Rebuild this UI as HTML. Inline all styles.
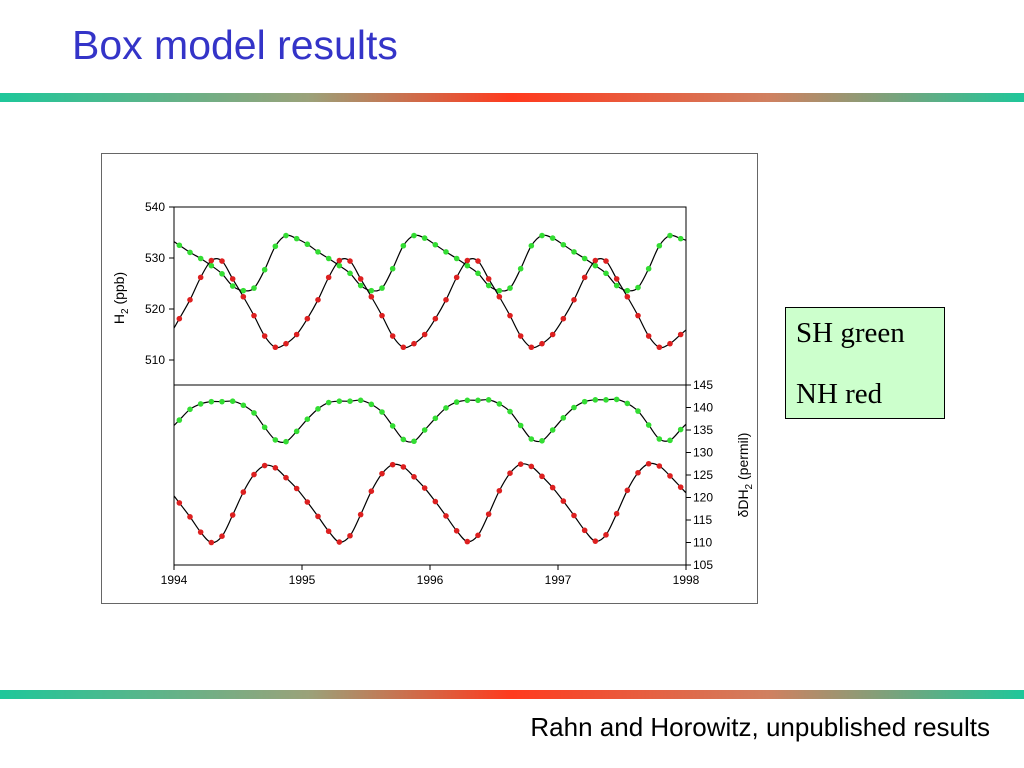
<!DOCTYPE html>
<html><head><meta charset="utf-8"><style>
body{margin:0;width:1024px;height:768px;background:#fff;position:relative;overflow:hidden;font-family:"Liberation Sans",sans-serif}
.bar{position:absolute;left:0;width:1024px;height:9px;background:linear-gradient(to right,#1ec79a,#9aa27a 30%,#ff3a1e 50%,#d08060 75%,#1ec79a)}
</style></head><body>
<div style="position:absolute;left:72px;top:22px;font-size:41px;color:#3434c8;">Box model results</div>
<div class="bar" style="top:93px"></div>
<div class="bar" style="top:690px"></div>
<div style="position:absolute;left:785px;top:307px;width:160px;height:112px;background:#ccffcc;border:1px solid #000;box-sizing:border-box;font-family:'Liberation Serif',serif;font-size:29px;">
<div style="position:absolute;left:10px;top:9px">SH green</div>
<div style="position:absolute;left:10px;top:70px">NH red</div>
</div>
<div style="position:absolute;right:34px;top:712px;font-size:26px;">Rahn and Horowitz, unpublished results</div>
<svg id="chart" width="1024" height="768" style="position:absolute;left:0;top:0" font-family="Liberation Sans, sans-serif" font-size="12">
<rect x="101.5" y="153.5" width="656" height="450" fill="none" stroke="#666"/>
<g id="g"></g>
</svg>
<script>
const years=["1994","1995","1996","1997","1998"];
const h2Ticks=[540,530,520,510];
const dTicks=[145,140,135,130,125,120,115,110,105];
const h2SH=[532.5,531.1,529.9,528.5,526.9,524.5,523.6,524.1,527.7,532.3,534.4,533.8,
532.7,531.2,529.9,528.5,527.0,524.6,523.6,524.1,527.9,532.4,534.4,533.9,
532.6,531.2,529.9,528.5,527.0,524.6,523.6,524.1,527.9,532.4,534.4,533.9,
532.6,531.2,529.9,528.5,527.0,524.6,523.6,524.2,527.9,532.4,534.4,533.8];
const h2NH=[518.1,521.8,526.2,529.5,529.4,525.9,522.4,518.7,514.7,512.5,513.2,515.0,
518.1,521.8,526.2,529.5,529.4,525.9,522.4,518.7,514.7,512.5,513.2,515.0,
518.1,521.8,526.2,529.5,529.4,525.9,522.4,518.7,514.7,512.5,513.2,515.0,
518.1,521.8,526.2,529.5,529.4,525.9,522.4,518.7,514.7,512.5,513.2,515.0];
const dSH=[137.2,139.6,140.8,141.3,141.3,141.4,140.5,138.8,135.6,132.8,132.4,134.7,
137.4,139.7,141.1,141.4,141.4,141.6,140.7,139.0,135.9,132.9,132.5,135.0,
137.6,139.9,141.2,141.6,141.6,141.7,140.8,139.1,136.0,133.0,132.6,135.0,
137.7,140.0,141.3,141.7,141.7,141.8,140.9,139.2,136.1,133.0,132.7,135.1];
const dNH=[118.8,115.7,112.3,110.0,111.4,116.1,121.2,125.1,127.1,126.6,124.4,122.0,
119.0,115.8,112.5,110.1,111.5,116.2,121.4,125.3,127.3,126.8,124.6,122.1,
119.1,115.9,112.6,110.2,111.6,116.3,121.5,125.4,127.4,126.9,124.7,122.2,
119.2,116.0,112.7,110.3,111.7,116.4,121.6,125.5,127.5,127.0,124.8,122.3];
const X0=174,X1=686;
const xs=t=>X0+(t-1994)/4*(X1-X0);
const yU=v=>207+(540-v)*5.1;
const yL=v=>385+(145-v)*4.5;
const NS="http://www.w3.org/2000/svg";
const g=document.getElementById('g');
function mk(tag,attrs){const e=document.createElementNS(NS,tag);for(const k in attrs)e.setAttribute(k,attrs[k]);g.appendChild(e);return e;}
let e;
e=mk('rect',{x:X0,y:207,width:X1-X0,height:178,fill:'none',stroke:'#000'});


e=mk('rect',{x:X0,y:385,width:X1-X0,height:180,fill:'none',stroke:'#000'});


h2Ticks.forEach(v=>{
 e=mk('line',{x1:X0-5,x2:X0,y1:yU(v),y2:yU(v),stroke:'#000'});
 
 
 e=mk('text',{x:X0-9,y:yU(v)+4,'text-anchor':'end'});e.textContent=v;
 
 
});
dTicks.forEach(v=>{
 e=mk('line',{x1:X1,x2:X1+5,y1:yL(v),y2:yL(v),stroke:'#000'});
 
 
 e=mk('text',{x:X1+7,y:yL(v)+4});e.textContent=v;
 
 
});
years.forEach(s=>{const x=xs(+s);
 e=mk('line',{x1:x,x2:x,y1:565,y2:570,stroke:'#000'});
 
 
 e=mk('text',{x:x,y:584,'text-anchor':'middle'});e.textContent=s;
 
 
});
e=mk('text',{transform:'translate(124,298) rotate(-90)','text-anchor':'middle','font-size':14});
e.innerHTML='H<tspan font-size="10" dy="4">2</tspan><tspan dy="-4">  (ppb)</tspan>';


e=mk('text',{transform:'translate(748,475) rotate(-90)','text-anchor':'middle','font-size':14});
e.innerHTML='δDH<tspan font-size="10" dy="4">2</tspan><tspan dy="-4">  (permil)</tspan>';


function series(vals,yf,color,name){
 const pts=vals.map((v,i)=>[xs(1994+(i+0.5)/12),yf(v)]);
 const n=pts.length;
 const first=[X0,pts[0][1]-(pts[1][1]-pts[0][1])*(pts[0][0]-X0)/(pts[1][0]-pts[0][0])];
 const last=[X1,pts[n-1][1]+(pts[n-1][1]-pts[n-2][1])*(X1-pts[n-1][0])/(pts[n-1][0]-pts[n-2][0])];
 const P=[first,...pts,last];
 let d='M'+P[0][0]+','+P[0][1];
 for(let i=0;i<P.length-1;i++){
  const p0=P[Math.max(0,i-1)],p1=P[i],p2=P[i+1],p3=P[Math.min(P.length-1,i+2)];
  d+=' C'+(p1[0]+(p2[0]-p0[0])/6)+','+(p1[1]+(p2[1]-p0[1])/6)+' '+(p2[0]-(p3[0]-p1[0])/6)+','+(p2[1]-(p3[1]-p1[1])/6)+' '+p2[0]+','+p2[1];
 }
 e=mk('path',{d:d,fill:'none',stroke:'#000','stroke-width':1.2});
 
 
 pts.forEach(p=>{
  e=mk('circle',{cx:p[0],cy:p[1],r:2.8,fill:color});
  
  
 });
}
series(h2SH,yU,'#33dd33','h2-sh');
series(h2NH,yU,'#dd2020','h2-nh');
series(dSH,yL,'#33dd33','dh2-sh');
series(dNH,yL,'#dd2020','dh2-nh');
</script>
</body></html>
